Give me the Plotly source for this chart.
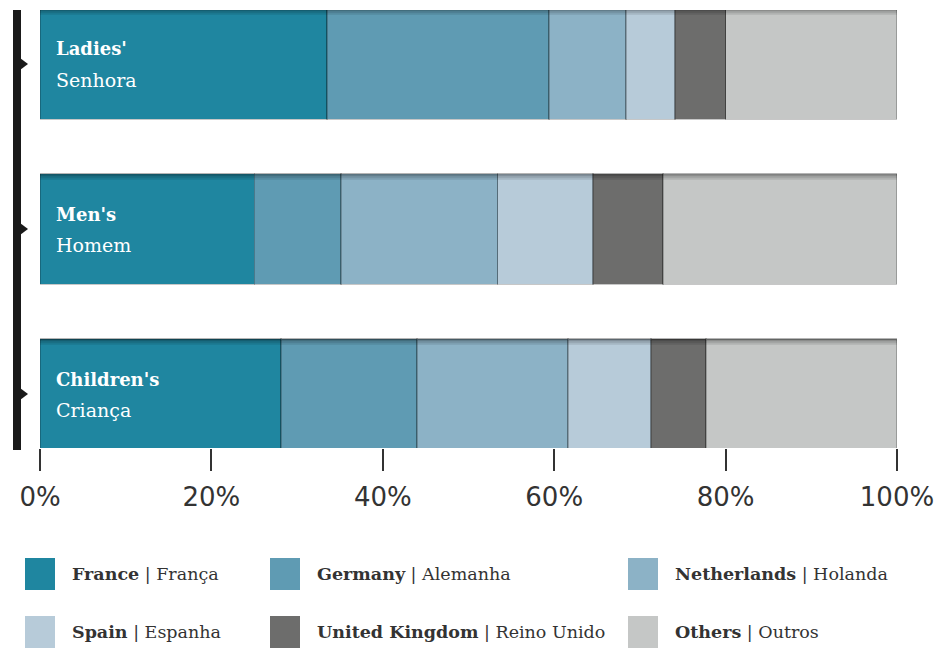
import plotly.graph_objects as go

categories = ["Ladies'", "Men's", "Children's"]
categories_pt = ["Senhora", "Homem", "Criança"]
series_en = ["France", "Germany", "Netherlands", "Spain", "United Kingdom", "Others"]
series_pt = ["França", "Alemanha", "Holanda", "Espanha", "Reino Unido", "Outros"]
values = {
    "France":         [33.5, 25.0, 28.1],
    "Germany":        [25.9, 10.1, 15.9],
    "Netherlands":    [9.0, 18.3, 17.6],
    "Spain":          [5.7, 11.1, 9.7],
    "United Kingdom": [5.9, 8.2, 6.4],
    "Others":         [20.0, 27.3, 22.3],
}
colors = ["#1f86a0", "#5f9bb3", "#8cb2c6", "#b7cbd9", "#6d6d6c", "#c5c7c6"]
tick_vals = [0, 20, 40, 60, 80, 100]
tick_text = ["0%", "20%", "40%", "60%", "80%", "100%"]

W, H = 938, 648
ML, MR, MT, MB = 40, 41, 10, 200
BAR_W = 0.67
SPAN = 2.654

fig = go.Figure()
for i, s in enumerate(series_en):
    fig.add_trace(go.Bar(
        y=categories, x=values[s], orientation="h", name=s,
        marker=dict(color=colors[i], line=dict(color="rgba(0,0,0,0.22)", width=1.5)),
        width=BAR_W, showlegend=False, hoverinfo="x+name",
    ))

annotations = []
shapes = []
# in-bar labels
for c, p in zip(categories, categories_pt):
    annotations.append(dict(x=1.6, y=c, xref="x", yref="y", text="<b>%s</b>" % c,
                            showarrow=False, xanchor="left", yshift=15,
                            font=dict(family="DejaVu Serif", size=18, color="white")))
    annotations.append(dict(x=1.6, y=c, xref="x", yref="y", text=p,
                            showarrow=False, xanchor="left", yshift=-16,
                            font=dict(family="DejaVu Serif", size=19, color="white")))

# top inner shadow on each bar
pxu = (H - MT - MB) / SPAN
n = len(categories)
for k, c in enumerate(reversed(categories)):
    top = k + BAR_W / 2
    for j, a in enumerate([0.35, 0.2, 0.1]):
        shapes.append(dict(type="rect", xref="x", yref="y", x0=0, x1=100,
                           y0=top - (j + 1) * 2 / pxu, y1=top - j * 2 / pxu,
                           fillcolor="rgba(0,0,0,%s)" % a, line=dict(width=0), layer="above"))

def px_x(p):
    return (p - ML) / (W - ML - MR)

def px_y(p):
    return 1 - (p - MT) / (H - MT - MB)

# left bracket
shapes.append(dict(type="rect", xref="paper", yref="paper", x0=px_x(13), x1=px_x(21),
                   y0=px_y(450), y1=px_y(10), fillcolor="#1a1a1a", line=dict(width=0)))
for k in range(n):
    yc = (k + 0.327) / SPAN
    dy = 6 / (H - MT - MB)
    shapes.append(dict(type="path", xref="paper", yref="paper",
                       path="M %f %f L %f %f L %f %f Z" % (px_x(20), yc + dy, px_x(28), yc,
                                                          px_x(20), yc - dy),
                       fillcolor="#1a1a1a", line=dict(width=0)))

# custom legend
col_x = [25, 270, 628]
row_y = [574, 632]
for i, (s, p) in enumerate(zip(series_en, series_pt)):
    cx = col_x[i % 3]
    cy = row_y[i // 3]
    shapes.append(dict(type="rect", xref="paper", yref="paper",
                       x0=px_x(cx), x1=px_x(cx + 30), y0=px_y(cy + 16), y1=px_y(cy - 16),
                       fillcolor=colors[i], line=dict(width=0)))
    annotations.append(dict(x=px_x(cx + 45), y=px_y(cy), xref="paper", yref="paper",
                            text="<b>%s</b> | %s" % (s, p), showarrow=False,
                            xanchor="left", yanchor="middle",
                            font=dict(family="DejaVu Serif", size=17.5, color="#333333")))

fig.update_layout(
    width=W, height=H, barmode="stack", autosize=False,
    margin=dict(l=ML, r=MR, t=MT, b=MB, pad=0),
    plot_bgcolor="white", paper_bgcolor="white",
    bargap=0.33,
    shapes=shapes, annotations=annotations,
    xaxis=dict(range=[0, 100], tickvals=tick_vals, ticktext=tick_text,
               ticks="outside", ticklen=22, tickwidth=2, tickcolor="#333333",
               showgrid=False, zeroline=False, showline=False, automargin=False,
               ticklabelstandoff=4, ticklabeloverflow="allow",
               tickfont=dict(family="DejaVu Sans", size=26, color="#333333")),
    yaxis=dict(categoryorder="array", categoryarray=list(reversed(categories)),
               range=[-0.327, 2.327], showticklabels=False, showgrid=False,
               zeroline=False, showline=False, automargin=False),
)

fig.write_html("out.html",
               config=dict(displayModeBar=False, responsive=False),
               post_script="document.body.style.margin='0';document.body.style.overflow='hidden';")
